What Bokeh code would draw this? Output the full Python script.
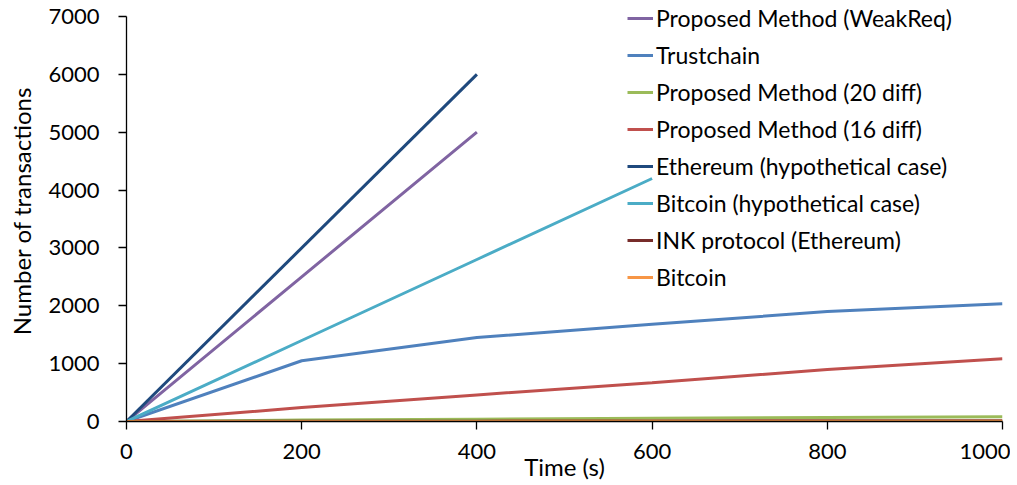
from bokeh.plotting import figure
from bokeh.models import Legend, LegendItem, Range1d, FixedTicker
from bokeh.embed import file_html
from bokeh.resources import INLINE

time_s = [0, 200, 400, 600, 800, 1000]
weakreq_t = [0, 200, 400]
weakreq = [0, 2500, 5000]
trustchain = [0, 1050, 1450, 1680, 1900, 2035]
diff20 = [0, 25, 40, 55, 70, 80]
diff16 = [0, 240, 460, 670, 900, 1085]
eth_hyp_t = [0, 400]
eth_hyp = [0, 6000]
btc_hyp_t = [0, 200, 400, 600]
btc_hyp = [0, 1400, 2800, 4200]
ink = [0, 3, 6, 9, 12, 15]
bitcoin = [0, 1, 2, 3, 4, 5]

x_ticks = [0, 200, 400, 600, 800, 1000]
y_ticks = [0, 1000, 2000, 3000, 4000, 5000, 6000, 7000]
y_max = 7000

FONT = "Lato"

# frame spans 421 px; the axis itself covers 0..7000 over the lower 405 px
p = figure(width=1010, height=483, output_backend="svg", toolbar_location=None,
           x_range=Range1d(0, 1000), y_range=Range1d(0, y_max * 421 / 405),
           min_border_left=126, min_border_right=8, min_border_top=0, min_border_bottom=62)
p.outline_line_color = None
p.xgrid.visible = False
p.ygrid.visible = False

series = [
    ("Proposed Method (WeakReq)", weakreq_t, weakreq, "#8064A2"),
    ("Trustchain", time_s, trustchain, "#4F81BD"),
    ("Proposed Method (20 diff)", time_s, diff20, "#9BBB59"),
    ("Proposed Method (16 diff)", time_s, diff16, "#C0504D"),
    ("Ethereum (hypothetical case)", eth_hyp_t, eth_hyp, "#1F497D"),
    ("Bitcoin (hypothetical case)", btc_hyp_t, btc_hyp, "#4BACC6"),
    ("INK protocol (Ethereum)", time_s, ink, "#772C2A"),
    ("Bitcoin", time_s, bitcoin, "#F79646"),
]

items = []
for name, xs, ys, col in series:
    r = p.line(xs, ys, line_color=col, line_width=3)
    items.append(LegendItem(label=name, renderers=[r]))

legend = Legend(items=items, location=(501, 130), padding=0, margin=0,
                spacing=9, glyph_width=26, glyph_height=20, label_height=20,
                label_standoff=3, border_line_color=None, background_fill_alpha=0,
                label_text_font=FONT, label_text_font_size="23px",
                label_text_color="black")
p.add_layout(legend, "center")

for ax in (p.xaxis[0], p.yaxis[0]):
    ax.axis_line_color = "black"
    ax.axis_line_width = 1.3
    ax.major_tick_line_color = "black"
    ax.major_tick_line_width = 1.3
    ax.major_tick_in = 0
    ax.major_tick_out = 8
    ax.minor_tick_line_color = None
    ax.major_label_text_font = FONT
    ax.major_label_text_font_size = "22px"
    ax.major_label_text_color = "black"
    ax.axis_label_text_font = FONT
    ax.axis_label_text_font_size = "24px"
    ax.axis_label_text_font_style = "normal"
    ax.axis_label_text_color = "black"

p.yaxis[0].bounds = (0, y_max)
p.xaxis[0].ticker = FixedTicker(ticks=x_ticks)
p.yaxis[0].ticker = FixedTicker(ticks=y_ticks)
p.xaxis[0].axis_label = "Time (s)"
p.yaxis[0].axis_label = "Number of transactions"
p.xaxis[0].major_label_standoff = 14
p.xaxis[0].axis_label_standoff = -10
p.yaxis[0].major_label_standoff = 19
p.yaxis[0].axis_label_standoff = 9

open("out.html", "w").write(file_html(p, INLINE))
